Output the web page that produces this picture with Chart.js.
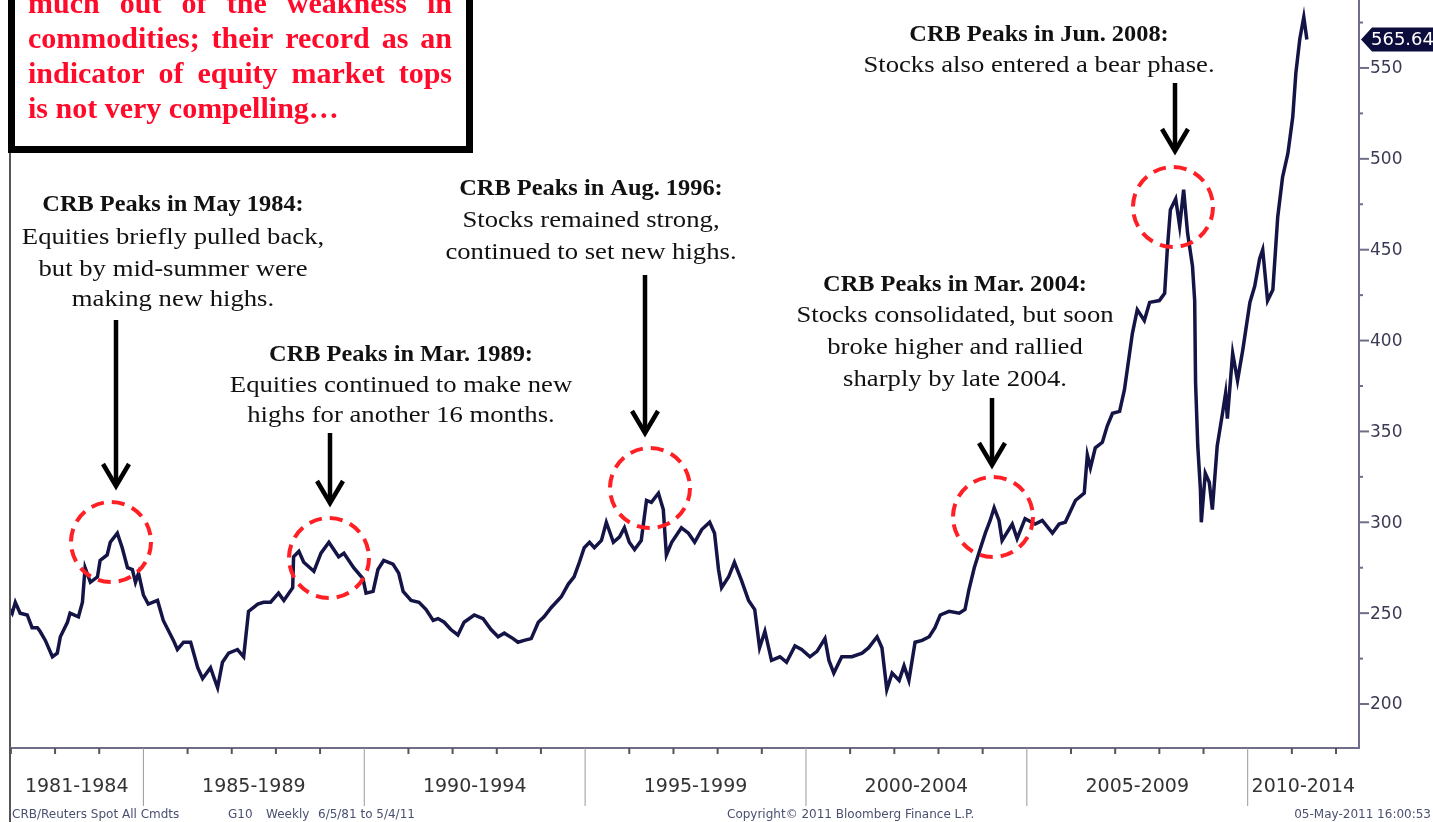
<!DOCTYPE html>
<html>
<head>
<meta charset="utf-8">
<script src="https://cdn.jsdelivr.net/npm/chart.js@4.4.1/dist/chart.umd.min.js"></script>
<style>
  html, body { margin: 0; padding: 0; background: #fff; }
  canvas { display: block; }
</style>
</head>
<body>
<canvas id="crbChart" width="1433" height="822"></canvas>
<script>
// CRB/Reuters Spot All Commodities, weekly (x = decimal year)
const weekDates = [
  1981.98, 1982.03, 1982.10, 1982.21, 1982.37, 1982.48, 1982.60, 1982.66, 1982.78, 1982.94,
  1983.05, 1983.12, 1983.28, 1983.34, 1983.53, 1983.62, 1983.68, 1983.80, 1983.96, 1984.02,
  1984.18, 1984.25, 1984.41, 1984.52, 1984.64, 1984.75, 1984.82, 1984.89, 1985.00, 1985.11,
  1985.32, 1985.45, 1985.68, 1985.77, 1985.91, 1986.07, 1986.23, 1986.34, 1986.52, 1986.59,
  1986.68, 1986.79, 1986.93, 1987.13, 1987.27, 1987.38, 1987.59, 1987.72, 1987.88, 1988.06,
  1988.18, 1988.38, 1988.40, 1988.52, 1988.63, 1988.86, 1989.02, 1989.20, 1989.42, 1989.54,
  1989.76, 1989.97, 1990.04, 1990.20, 1990.31, 1990.44, 1990.65, 1990.78, 1990.88, 1991.06,
  1991.24, 1991.40, 1991.56, 1991.67, 1991.81, 1991.96, 1992.12, 1992.26, 1992.49, 1992.69,
  1992.87, 1993.03, 1993.17, 1993.37, 1993.48, 1993.62, 1993.78, 1993.94, 1994.07, 1994.23,
  1994.46, 1994.62, 1994.75, 1994.87, 1994.98, 1995.10, 1995.21, 1995.37, 1995.48, 1995.64,
  1995.78, 1995.89, 1996.00, 1996.12, 1996.27, 1996.39, 1996.50, 1996.66, 1996.77, 1996.84,
  1996.96, 1997.18, 1997.34, 1997.48, 1997.64, 1997.82, 1997.93, 1998.02, 1998.09, 1998.25,
  1998.38, 1998.54, 1998.70, 1998.84, 1998.95, 1999.07, 1999.22, 1999.41, 1999.56, 1999.75,
  1999.90, 2000.09, 2000.25, 2000.43, 2000.52, 2000.63, 2000.81, 2001.04, 2001.27, 2001.42,
  2001.61, 2001.72, 2001.83, 2001.95, 2002.11, 2002.22, 2002.33, 2002.47, 2002.63, 2002.79,
  2002.92, 2003.04, 2003.24, 2003.47, 2003.60, 2003.69, 2003.81, 2003.94, 2004.06, 2004.17,
  2004.26, 2004.37, 2004.44, 2004.67, 2004.78, 2004.96, 2005.19, 2005.35, 2005.58, 2005.73,
  2005.87, 2006.10, 2006.30, 2006.37, 2006.44, 2006.55, 2006.71, 2006.82, 2006.94, 2007.10,
  2007.21, 2007.39, 2007.50, 2007.66, 2007.78, 2008.00, 2008.12, 2008.18, 2008.25, 2008.37,
  2008.46, 2008.55, 2008.64, 2008.75, 2008.80, 2008.82, 2008.87, 2008.93, 2008.95, 2009.04,
  2009.13, 2009.20, 2009.31, 2009.43, 2009.50, 2009.54, 2009.66, 2009.77, 2009.89, 2010.05,
  2010.16, 2010.27, 2010.34, 2010.45, 2010.57, 2010.68, 2010.79, 2010.91, 2011.02, 2011.09,
  2011.18, 2011.27, 2011.34
];
const crbValues = [
  252, 250, 256, 250, 249, 242, 242, 240, 235, 226,
  228, 237, 245, 250, 248, 256, 275, 267, 270, 279,
  282, 289, 294, 286, 275, 274, 267, 272, 260, 255,
  257, 246, 235, 230, 234, 234, 220, 214, 220, 215,
  209, 223, 228, 230, 226, 251, 255, 256, 256, 261,
  257, 264, 281, 284, 278, 273, 283, 289, 281, 283,
  275, 269, 261, 262, 274, 279, 277, 272, 262, 257,
  256, 252, 246, 247, 245, 241, 238, 245, 249, 247,
  241, 237, 239, 236, 234, 235, 236, 245, 248, 253,
  259, 266, 270, 278, 286, 289, 286, 290, 300, 289,
  292, 297, 289, 285, 290, 312, 311, 316, 307, 282,
  289, 297, 294, 289, 296, 300, 294, 274, 264, 270,
  278, 268, 257, 252, 231, 240, 224, 226, 223, 232,
  230, 226, 229, 236, 224, 217, 226, 226, 228, 231,
  237, 231, 208, 217, 213, 221, 213, 234, 235, 237,
  242, 249, 251, 250, 252, 263, 275, 285, 294, 301,
  308, 301, 290, 299, 291, 302, 299, 301, 294, 299,
  300, 312, 316, 337, 330, 341, 344, 353, 360, 361,
  373, 404, 417, 411, 421, 422, 426, 450, 472, 478,
  463, 483, 459, 441, 422, 377, 342, 318, 300, 327,
  322, 307, 342, 360, 371, 357, 393, 378, 395, 421,
  430, 445, 450, 422, 428, 468, 490, 503, 523, 547,
  566, 578, 565.64
];
const lastValue = 565.64;
const periodLabels = ['1981-1984', '1985-1989', '1990-1994', '1995-1999', '2000-2004', '2005-2009', '2010-2014'];
const periodStarts = [1980, 1985, 1990, 1995, 2000, 2005, 2010];
const yTickLabels = [200, 250, 300, 350, 400, 450, 500, 550];

const boxLines = [
  'much out of the weakness in',
  'commodities; their record as an',
  'indicator of equity market tops',
  'is not very compelling…'
];
const notes = [
  { x: 173, ys: [205, 238, 270, 300], lines: ['CRB Peaks in May 1984:', 'Equities briefly pulled back,', 'but by mid-summer were', 'making new highs.'] },
  { x: 401, ys: [355, 386, 416], lines: ['CRB Peaks in Mar. 1989:', 'Equities continued to make new', 'highs for another 16 months.'] },
  { x: 591, ys: [189, 221, 253], lines: ['CRB Peaks in Aug. 1996:', 'Stocks remained strong,', 'continued to set new highs.'] },
  { x: 955, ys: [285, 316, 348, 380], lines: ['CRB Peaks in Mar. 2004:', 'Stocks consolidated, but soon', 'broke higher and rallied', 'sharply by late 2004.'] },
  { x: 1039, ys: [35, 66], lines: ['CRB Peaks in Jun. 2008:', 'Stocks also entered a bear phase.'] }
];
const arrows = [[116, 320, 488], [330, 433, 505], [645, 275, 435], [992, 398, 467], [1175, 83, 153]];
const circles = [[111, 542], [329, 558], [650, 488], [993, 517], [1173, 207]];

function justify(ctx, text, x, y, w) {
  const words = text.split(' ');
  const total = words.reduce((s, wd) => s + ctx.measureText(wd).width, 0);
  const gap = (w - total) / (words.length - 1);
  let cx = x;
  words.forEach(wd => {
    ctx.fillText(wd, cx, y);
    cx += ctx.measureText(wd).width + gap;
  });
}

// serif text a bit wider than Liberation, to look like the book face in the original
function wideText(ctx, t, x, y, sx) {
  ctx.save();
  ctx.translate(x, y);
  ctx.scale(sx, 1);
  ctx.fillText(t, 0, 0);
  ctx.restore();
}

const overlay = {
  id: 'overlay',
  afterDraw(chart) {
    const ctx = chart.ctx;
    const xs = chart.scales.x, ys = chart.scales.y;
    const a = chart.chartArea;
    ctx.save();

    // frame + axes
    ctx.strokeStyle = '#555';
    ctx.lineWidth = 2;
    ctx.beginPath();
    ctx.moveTo(a.left, 150); ctx.lineTo(a.left, 822);
    ctx.stroke();
    ctx.strokeStyle = '#6e6e88';
    ctx.beginPath();
    ctx.moveTo(a.right, 0); ctx.lineTo(a.right, a.bottom);
    ctx.lineTo(a.left, a.bottom);
    ctx.stroke();

    // y ticks, major and minor, and labels
    ctx.lineWidth = 2;
    ctx.fillStyle = '#3a3a55';
    ctx.font = '17px "DejaVu Sans"';
    ctx.textAlign = 'left';
    ctx.textBaseline = 'middle';
    for (let v = 200; v <= 575; v += 25) {
      const py = ys.getPixelForValue(v);
      ctx.beginPath();
      ctx.moveTo(a.right, py);
      ctx.lineTo(a.right + (v % 50 === 0 ? 10 : 4), py);
      ctx.stroke();
      if (yTickLabels.includes(v)) ctx.fillText(String(v), a.right + 11, py + 1);
    }

    // x ticks, separators, period labels
    for (let yr = 1982; yr <= 2012; yr++) {
      const px = xs.getPixelForValue(yr);
      ctx.beginPath();
      ctx.moveTo(px, a.bottom);
      ctx.lineTo(px, a.bottom + (yr % 5 === 0 ? 58 : 6));
      ctx.lineWidth = yr % 5 === 0 ? 1 : 2;
      ctx.strokeStyle = yr % 5 === 0 ? '#999' : '#555';
      ctx.stroke();
    }
    ctx.fillStyle = '#333';
    ctx.font = '19px "DejaVu Sans"';
    ctx.textAlign = 'center';
    periodLabels.forEach((lab, i) => {
      const l = Math.max(xs.getPixelForValue(periodStarts[i]), a.left);
      const r = Math.min(xs.getPixelForValue(periodStarts[i] + 5), a.right);
      ctx.fillText(lab, (l + r) / 2, 787);
    });

    // footer
    ctx.font = '12px "DejaVu Sans"';
    ctx.fillStyle = '#4a5070';
    ctx.textAlign = 'left';
    ctx.fillText('CRB/Reuters Spot All Cmdts', 12, 815);
    ctx.fillText('G10', 228, 815);
    ctx.fillText('Weekly', 266, 815);
    ctx.fillText('6/5/81 to 5/4/11', 318, 815);
    ctx.fillText('Copyright© 2011 Bloomberg Finance L.P.', 727, 815);
    ctx.textAlign = 'right';
    ctx.fillText('05-May-2011 16:00:53', 1431, 815);

    // last value tag
    const ly = ys.getPixelForValue(lastValue);
    ctx.fillStyle = '#0d0d3d';
    ctx.beginPath();
    ctx.moveTo(a.right + 2, ly);
    ctx.lineTo(a.right + 13, ly - 12);
    ctx.lineTo(1433, ly - 12);
    ctx.lineTo(1433, ly + 12);
    ctx.lineTo(a.right + 13, ly + 12);
    ctx.closePath();
    ctx.fill();
    ctx.fillStyle = '#fff';
    ctx.textAlign = 'left';
    ctx.font = '18px "DejaVu Sans"';
    ctx.fillText(lastValue.toFixed(2), a.right + 12, ly + 1);

    // dashed circles
    ctx.strokeStyle = '#ff1f24';
    ctx.lineWidth = 4;
    ctx.setLineDash([13, 8]);
    circles.forEach(([cx, cy]) => {
      ctx.beginPath();
      ctx.arc(cx, cy, 40, 0, Math.PI * 2);
      ctx.stroke();
    });
    ctx.setLineDash([]);

    // arrows
    ctx.strokeStyle = '#000';
    ctx.lineWidth = 4.5;
    arrows.forEach(([x, y0, y1]) => {
      ctx.beginPath();
      ctx.moveTo(x, y0); ctx.lineTo(x, y1 - 3);
      ctx.stroke();
      ctx.beginPath();
      ctx.moveTo(x - 13, y1 - 24); ctx.lineTo(x, y1 - 2); ctx.lineTo(x + 13, y1 - 24);
      ctx.stroke();
    });

    // notes
    ctx.fillStyle = '#111';
    ctx.textAlign = 'center';
    ctx.textBaseline = 'middle';
    notes.forEach(n => {
      n.lines.forEach((t, i) => {
        ctx.font = (i === 0 ? 'bold ' : '') + '23px "Liberation Serif"';
        wideText(ctx, t, n.x, n.ys[i], i === 0 ? 1.06 : 1.16);
      });
    });

    // red comment box
    ctx.fillStyle = '#fff';
    ctx.fillRect(8, -10, 464, 162);
    ctx.strokeStyle = '#000';
    ctx.lineWidth = 7;
    ctx.strokeRect(11.5, -10, 458, 159.5);
    ctx.fillStyle = '#ff0a2a';
    ctx.font = 'bold 30px "Liberation Serif"';
    ctx.textAlign = 'left';
    ctx.textBaseline = 'alphabetic';
    boxLines.forEach((t, i) => {
      const y = 13 + i * 35;
      if (i < boxLines.length - 1) justify(ctx, t, 28, y, 424);
      else ctx.fillText(t, 28, y);
    });

    ctx.restore();
  }
};

new Chart(document.getElementById('crbChart'), {
  type: 'line',
  data: {
    datasets: [{
      label: 'CRB/Reuters Spot All Cmdts',
      data: weekDates.map((d, i) => ({ x: d, y: crbValues[i] })),
      borderColor: '#141446',
      borderWidth: 3.5,
      pointRadius: 0,
      tension: 0
    }]
  },
  options: {
    responsive: false,
    animation: false,
    devicePixelRatio: 1,
    layout: { padding: { left: 10, top: 0, right: 0, bottom: 0 } },
    plugins: { legend: { display: false }, tooltip: { enabled: false } },
    scales: {
      x: {
        type: 'linear',
        min: 1981.98,
        max: 2012.52,
        grid: { display: false, drawTicks: false },
        border: { display: false },
        ticks: { display: false },
        afterFit: s => { s.height = 74; }
      },
      y: {
        position: 'right',
        min: 175.8,
        max: 587.4,
        grid: { display: false, drawTicks: false },
        border: { display: false },
        ticks: { display: false },
        afterFit: s => { s.width = 74; }
      }
    }
  },
  plugins: [overlay]
});
</script>
</body>
</html>
